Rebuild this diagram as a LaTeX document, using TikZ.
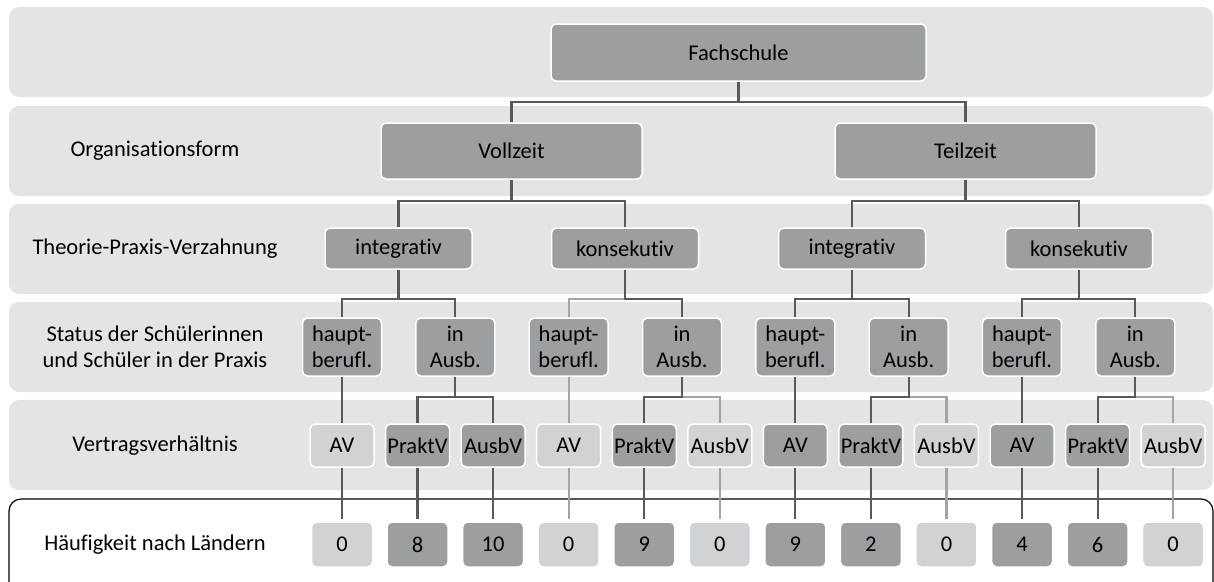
\documentclass[tikz,border=0pt]{standalone}
\usepackage{fontspec}
\setmainfont{Carlito}[Ligatures=NoCommon]

\definecolor{bandgray}{HTML}{E3E4E3}
\definecolor{boxdark}{HTML}{9D9EA0}
\definecolor{boxlight}{HTML}{D1D2D4}
\definecolor{linedark}{HTML}{58595B}
\definecolor{linelight}{HTML}{A3A4A6}

\tikzset{
    band/.style={fill=bandgray, rounded corners=10pt},
    darkbox/.style={fill=boxdark, draw=white, line width=1.5pt, rounded corners=5pt, inner sep=0pt, align=center},
    lightbox/.style={darkbox, fill=boxlight},
    darklink/.style={draw=linedark, line width=2.2pt},
    lightlink/.style={draw=linelight, line width=2.2pt},
    rowlabel/.style={align=center}
}

\begin{document}
\begin{tikzpicture}[x=1pt, y=-1pt, font=\fontsize{22.5}{26}\selectfont]
    \useasboundingbox (0,0) rectangle (1214,581);

    % Bands
    \foreach \t in {7,106,204,302,400} {
        \fill[band] (9,\t) rectangle (1213,\t+90);
    }
    \begin{scope}
        \clip (0,0) rectangle (1214,581);
        \draw[black, line width=1.2pt, rounded corners=12pt] (9,620) -- (9,499) -- (1213,499) -- (1213,620);
    \end{scope}

    % Row labels
    \node[rowlabel] (lab_org) at (155,151) {Organisationsform};
    \node[rowlabel] (lab_tpv) at (155,248.5) {Theorie-Praxis-Verzahnung};
    \node[rowlabel] (lab_status) at (155,347) {Status der Schülerinnen\\und Schüler in der Praxis};
    \node[rowlabel] (lab_vertrag) at (155,445.5) {Vertragsverhältnis};
    \node[rowlabel] (lab_haeuf) at (155,544.5) {Häufigkeit nach Ländern};

    % Boxes
    \node[darkbox, minimum width=375pt, minimum height=57pt] (fachschule) at (738.5,52.5) {Fachschule};
    \node[darkbox, minimum width=261pt, minimum height=56pt] (vollzeit) at (511.5,151) {Vollzeit};
    \node[darkbox, minimum width=261pt, minimum height=56pt] (teilzeit) at (965.5,151) {Teilzeit};
    \foreach \name/\x/\txt in {vz_int/398.5/integrativ, vz_kon/625/konsekutiv, tz_int/852/integrativ, tz_kon/1079/konsekutiv} {
        \node[darkbox, minimum width=147pt, minimum height=41pt] (\name) at (\x,248.5) {\txt};
    }
    \foreach \i/\txt in {1/{haupt-\\berufl.}, 2/{in\\Ausb.}, 3/{haupt-\\berufl.}, 4/{in\\Ausb.},
                         5/{haupt-\\berufl.}, 6/{in\\Ausb.}, 7/{haupt-\\berufl.}, 8/{in\\Ausb.}} {
        \node[darkbox, minimum width=79pt, minimum height=58pt] (s\i) at ({342+(\i-1)*113.33},347) {\txt};
    }
    \foreach \i/\sty/\txt/\num in {1/lightbox/AV/0, 2/darkbox/PraktV/8, 3/darkbox/AusbV/10,
                                   4/lightbox/AV/0, 5/darkbox/PraktV/9, 6/lightbox/AusbV/0,
                                   7/darkbox/AV/9, 8/darkbox/PraktV/2, 9/lightbox/AusbV/0,
                                   10/darkbox/AV/4, 11/darkbox/PraktV/6, 12/lightbox/AusbV/0} {
        \node[\sty, minimum width=64pt, minimum height=43pt] (v\i) at ({342+(\i-1)*75.56},445.5) {\txt};
        \node[\sty, minimum width=61pt, minimum height=45pt, outer sep=3pt] (n\i) at ({342+(\i-1)*75.56},544.5) {\num};
    }

    % Connectors, light ones first
    \foreach \p/\c/\h in {vz_kon/s3/29, s3/v4/20, s4/v6/20, s6/v9/20, s8/v12/20,
                          v4/n4/20, v6/n6/20, v9/n9/20, v12/n12/20} {
        \draw[lightlink] (\p.south) -- ++(0,\h) -| (\c.north);
    }
    \foreach \p/\c/\h in {fachschule/vollzeit/20, fachschule/teilzeit/20,
                          vollzeit/vz_int/21, vollzeit/vz_kon/21, teilzeit/tz_int/21, teilzeit/tz_kon/21,
                          vz_int/s1/29, vz_int/s2/29, vz_kon/s4/29, tz_int/s5/29, tz_int/s6/29, tz_kon/s7/29, tz_kon/s8/29,
                          s1/v1/20, s2/v2/20, s2/v3/20, s4/v5/20, s5/v7/20, s6/v8/20, s7/v10/20, s8/v11/20,
                          v1/n1/20, v2/n2/20, v3/n3/20, v5/n5/20, v7/n7/20, v8/n8/20, v10/n10/20, v11/n11/20} {
        \draw[darklink] (\p.south) -- ++(0,\h) -| (\c.north);
    }
\end{tikzpicture}
\end{document}
